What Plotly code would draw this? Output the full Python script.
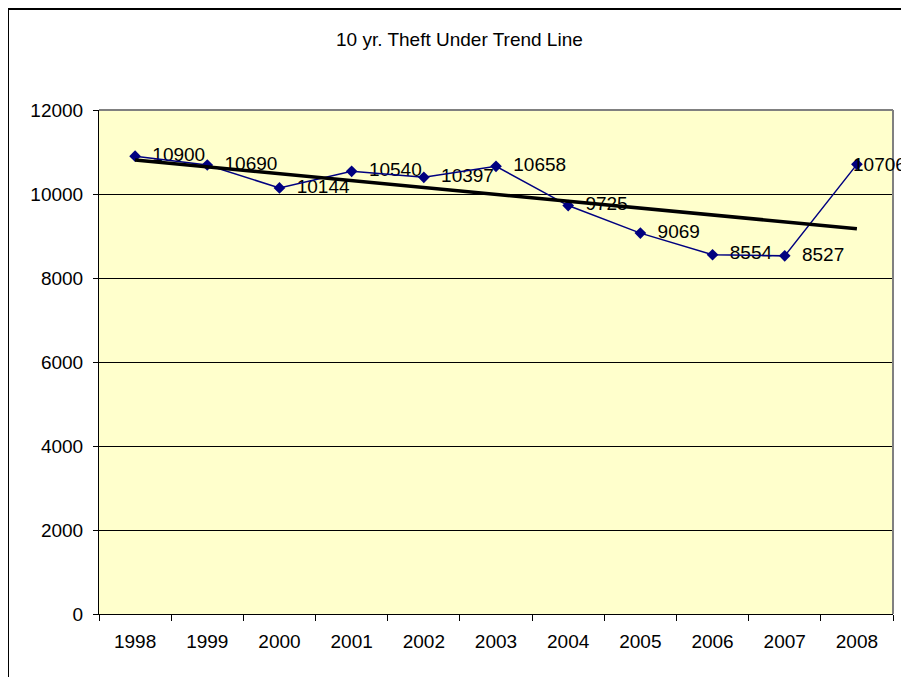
import numpy as np
import plotly.graph_objects as go

years = ["1998", "1999", "2000", "2001", "2002", "2003", "2004", "2005", "2006", "2007", "2008"]
theft_under = [10900, 10690, 10144, 10540, 10397, 10658, 9725, 9069, 8554, 8527, 10706]
y_ticks = [0, 2000, 4000, 6000, 8000, 10000, 12000]
title_text = "10 yr. Theft Under Trend Line"

# Linear trend (least squares) like the spreadsheet trend line
xi = np.arange(len(years))
slope, intercept = np.polyfit(xi, theft_under, 1)
trend = [float(intercept + slope * i) for i in xi]

FONT = "Liberation Sans, Arial, sans-serif"
OFF = 8  # page body margin
W, H = 909 - OFF, 677 - OFF
L, R, T, B = 99 - OFF, 16, 110 - OFF, 63
PW, PH = W - L - R, H - T - B

def px_x(p):
    return (p - OFF - L) / PW

def px_y(p):
    return (H - B - (p - OFF)) / PH

n = len(years)
fig = go.Figure()
# labels for all points but the last (invisible markers set label offset)
fig.add_trace(go.Scatter(
    x=years[:-1], y=theft_under[:-1], mode="markers+text",
    marker=dict(size=26, color="#FFFFCC", opacity=0),
    text=[str(v) for v in theft_under[:-1]], textposition="middle right",
    textfont=dict(family=FONT, size=19, color="#000000"),
    cliponaxis=False, showlegend=False, hoverinfo="skip",
))
fig.add_trace(go.Scatter(
    x=years, y=theft_under, mode="lines+markers",
    line=dict(color="#000080", width=1.5),
    marker=dict(symbol="diamond", size=9, color="#000080"),
    cliponaxis=False, showlegend=False, hoverinfo="x+y",
))
fig.add_trace(go.Scatter(
    x=years, y=trend, mode="lines",
    line=dict(color="#000000", width=3.5),
    showlegend=False, hoverinfo="skip",
))

fig.update_layout(
    width=W, height=H,
    margin=dict(l=L, r=R, t=T, b=B, pad=0),
    paper_bgcolor="#FFFFFF", plot_bgcolor="#FFFFCC",
    font=dict(family=FONT, size=19, color="#000000"),
    xaxis=dict(
        type="category", range=[-0.5, n - 0.5],
        tickson="boundaries", ticks="outside", ticklen=6, tickwidth=1, tickcolor="#000000",
        showgrid=False, showline=True, linecolor="#000000", linewidth=1,
        zeroline=False, ticklabelstandoff=10,
        tickfont=dict(family=FONT, size=19, color="#000000"),
    ),
    yaxis=dict(
        range=[0, 12000], tickvals=y_ticks, ticktext=[str(v) for v in y_ticks],
        ticks="outside", ticklen=5, tickwidth=1, tickcolor="#000000",
        showgrid=True, gridcolor="#000000", gridwidth=1,
        showline=True, linecolor="#000000", linewidth=1,
        zeroline=False, ticklabelstandoff=6,
        tickfont=dict(family=FONT, size=19, color="#000000"),
    ),
    shapes=[
        dict(type="line", xref="paper", yref="paper", x0=0, x1=1, y0=1, y1=1,
             line=dict(color="#808080", width=2), layer="above"),
        dict(type="line", xref="paper", yref="paper", x0=1, x1=1, y0=0, y1=1,
             line=dict(color="#808080", width=2), layer="above"),
        dict(type="rect", xref="paper", yref="paper",
             x0=px_x(8), x1=px_x(907), y0=px_y(700), y1=px_y(9),
             line=dict(color="#000000", width=2), fillcolor="rgba(0,0,0,0)", layer="above"),
    ],
    annotations=[
        dict(text=title_text, xref="paper", yref="paper", x=px_x(459), y=px_y(39),
             xanchor="center", yanchor="middle", showarrow=False,
             font=dict(family=FONT, size=19, color="#000000")),
        # last label pulled in over its point so it fits inside the frame
        dict(text=str(theft_under[-1]), x=n - 1, y=theft_under[-1], xref="x", yref="y",
             xanchor="left", yanchor="middle", xshift=-6, showarrow=False,
             font=dict(family=FONT, size=19, color="#000000")),
    ],
)

fig.write_html("out.html")
